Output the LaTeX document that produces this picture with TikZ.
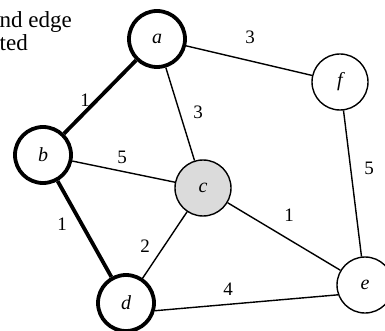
\documentclass[tikz,border=0pt]{standalone}
\usepackage{fontspec}
\setmainfont{Liberation Serif}
\begin{document}
\begin{tikzpicture}[x=1pt,y=-1pt,
  vtx/.style={circle,draw,line width=1.4pt,minimum size=56pt,inner sep=0pt,
    font=\fontsize{20}{20}\selectfont\itshape},
  picked/.style={line width=3.8pt},
  plain/.style={line width=1.4pt},
  wt/.style={font=\fontsize{19}{19}\selectfont,inner sep=0pt}]
\useasboundingbox (0,0) rectangle (385,331);
% caption, cut off at the left
\node[anchor=base east,font=\fontsize{23}{23}\selectfont,inner sep=0pt] (cap1) at (72,28) {nd edge};
\node[anchor=base east,font=\fontsize{23}{23}\selectfont,inner sep=0pt] (cap2) at (28,51) {ted};
% vertices
\node[vtx,picked] (a) at (157,39) {a};
\node[vtx,picked] (b) at (43,155) {b};
\node[vtx,fill=black!14] (c) at (203,188) {c};
\node[vtx,picked] (d) at (126,303) {d};
\node[vtx] (e) at (365,285) {e};
\node[vtx] (f) at (340,82) {f};
% edges
\draw[picked] (a) -- (b);
\draw[picked] (b) -- (d);
\draw[plain] (a) -- (f);
\draw[plain] (a) -- (c);
\draw[plain] (b) -- (c);
\draw[plain] (c) -- (d);
\draw[plain] (c) -- (e);
\draw[plain] (d.-15) -- (e.-160);
\draw[plain] (f) -- (e);
% weights
\node[wt] (w-af) at (250,37) {3};
\node[wt] (w-ac) at (198,112) {3};
\node[wt] (w-ab) at (85,100) {1};
\node[wt] (w-bc) at (122,157) {5};
\node[wt] (w-bd) at (62,224) {1};
\node[wt] (w-cd) at (145,246) {2};
\node[wt] (w-ce) at (289,215) {1};
\node[wt] (w-de) at (228,289) {4};
\node[wt] (w-fe) at (369,168) {5};
\end{tikzpicture}
\end{document}
